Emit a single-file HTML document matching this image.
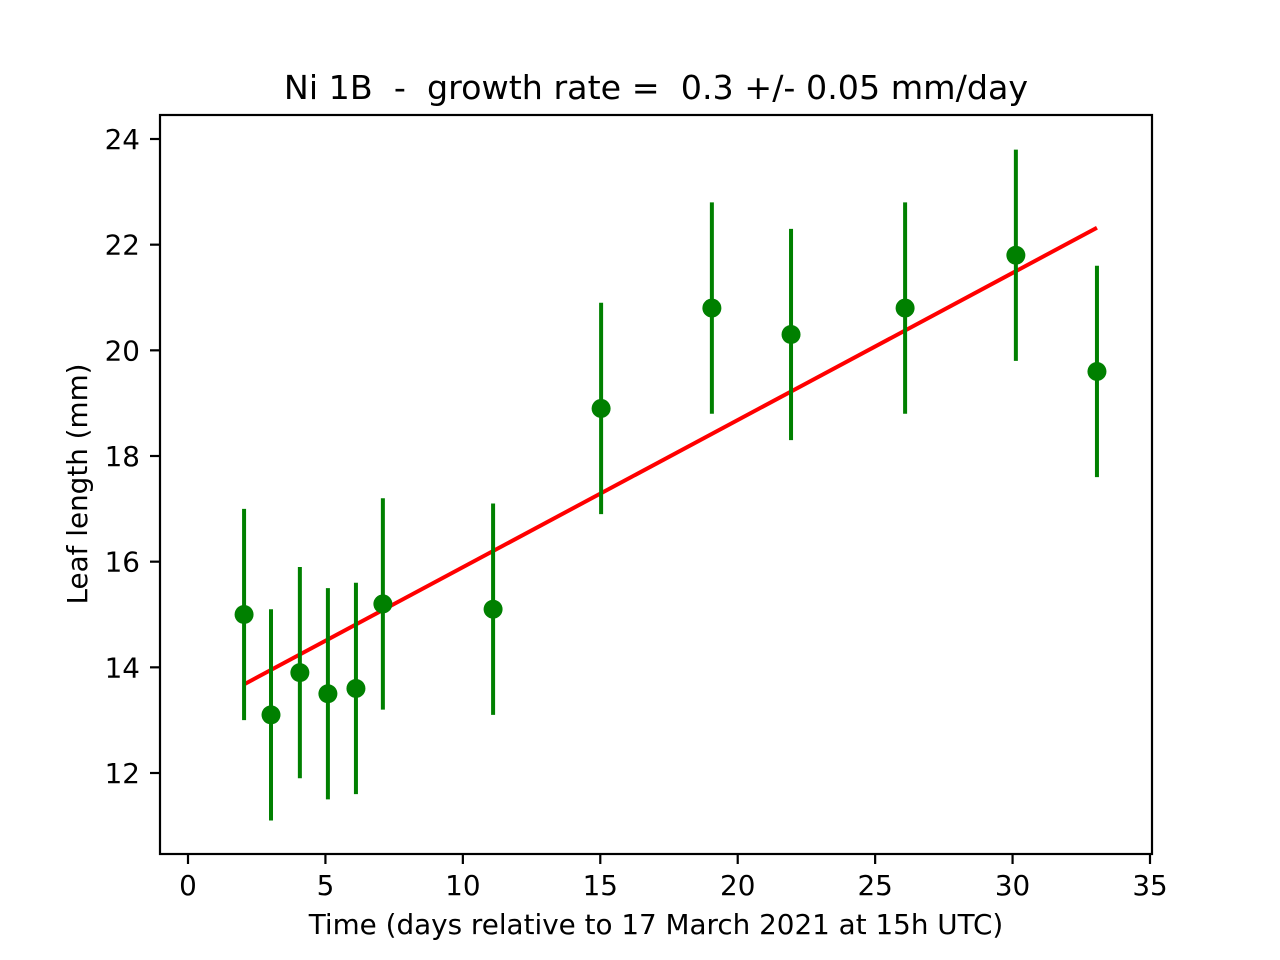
<!DOCTYPE html>
<html><head><meta charset="utf-8"><style>
html,body{margin:0;padding:0;background:#fff}
svg{display:block;font-family:"DejaVu Sans","Liberation Sans",sans-serif}
</style></head><body>
<svg id="chart" width="1280" height="960" xmlns="http://www.w3.org/2000/svg">
<rect width="1280" height="960" fill="#fff"/>
<text x="656" y="99" font-size="33.3" text-anchor="middle" xml:space="preserve">Ni 1B  -  growth rate =  0.3 +/- 0.05 mm/day</text>
<text x="656" y="934" font-size="27.8" text-anchor="middle">Time (days relative to 17 March 2021 at 15h UTC)</text>
<text transform="translate(87,484) rotate(-90)" font-size="27.8" text-anchor="middle">Leaf length (mm)</text>
<g id="plot"></g>
<rect x="160" y="115" width="992" height="739" fill="none" stroke="#000" stroke-width="2.2"/>
</svg>
<script>
const xVals=[2.04,3.02,4.07,5.09,6.11,7.09,11.1,15.03,19.06,21.94,26.09,30.12,33.07];
const yVals=[15.0,13.1,13.9,13.5,13.6,15.2,15.1,18.9,20.8,20.3,20.8,21.8,19.6];
const yErr=[2,2,2,2,2,2,2,2,2,2,2,2,2];
const fitSlope=0.2785;
const fitIntercept=13.11;
const xTicks=[0,5,10,15,20,25,30,35];
const yTicks=[12,14,16,18,20,22,24];
const X=v=>188+(v-0)*962/35;
const Y=v=>139+(24-v)*634/12;
const NS='http://www.w3.org/2000/svg';
const g=document.getElementById('plot');
function mk(t,a){const e=document.createElementNS(NS,t);for(const k in a)e.setAttribute(k,a[k]);g.appendChild(e);return e;}
xTicks.forEach(t=>{
 const l=mk('line',{x1:X(t),x2:X(t),y1:854,y2:864,stroke:'#000','stroke-width':2.2});
 
 
 const tx=mk('text',{x:X(t),y:895,'font-size':27.8,'text-anchor':'middle'});tx.textContent=t;
 
 
});
yTicks.forEach(t=>{
 const l=mk('line',{x1:150,x2:160,y1:Y(t),y2:Y(t),stroke:'#000','stroke-width':2.2});
 
 
 const tx=mk('text',{x:140,y:Y(t)+10,'font-size':27.8,'text-anchor':'end'});tx.textContent=t;
 
 
});
const x0=xVals[0],x1=xVals[xVals.length-1];
const fl=mk('line',{x1:X(x0),y1:Y(fitIntercept+fitSlope*x0),x2:X(x1),y2:Y(fitIntercept+fitSlope*x1),stroke:'#ff0000','stroke-width':4});


xVals.forEach((x,i)=>{
 const e=mk('line',{x1:X(x),x2:X(x),y1:Y(yVals[i]-yErr[i]),y2:Y(yVals[i]+yErr[i]),stroke:'#008000','stroke-width':4});
 
 
});
xVals.forEach((x,i)=>{
 const c=mk('circle',{cx:X(x),cy:Y(yVals[i]),r:9.5,fill:'#008000'});
 
 
});
</script>
</body></html>
